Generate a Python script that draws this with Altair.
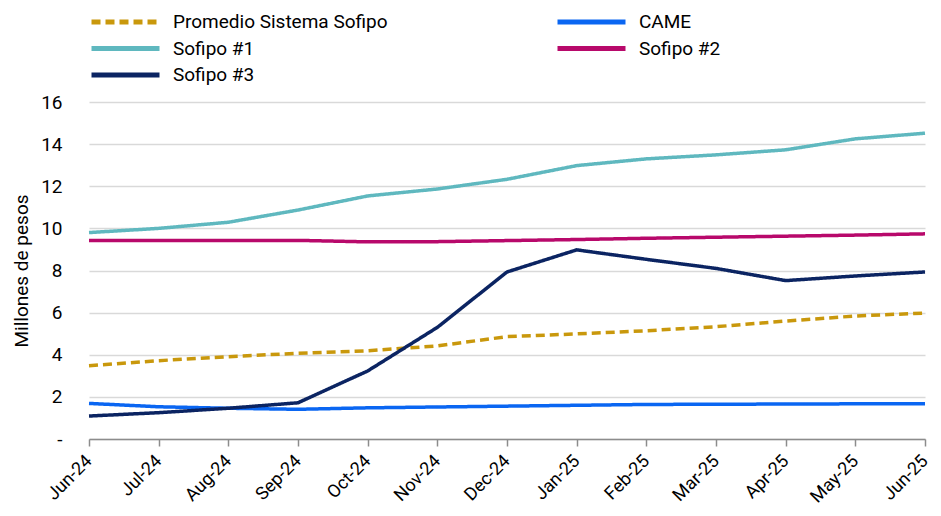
import altair as alt
import pandas as pd

months = ["Jun-24", "Jul-24", "Aug-24", "Sep-24", "Oct-24", "Nov-24", "Dec-24",
          "Jan-25", "Feb-25", "Mar-25", "Apr-25", "May-25", "Jun-25"]

promedio = [3.48, 3.72, 3.91, 4.07, 4.19, 4.42, 4.86, 4.99, 5.14, 5.33, 5.60, 5.84, 5.98]
came     = [1.69, 1.53, 1.46, 1.41, 1.48, 1.52, 1.56, 1.60, 1.64, 1.65, 1.66, 1.67, 1.67]
sofipo1  = [9.80, 10.00, 10.29, 10.87, 11.54, 11.87, 12.33, 12.98, 13.30, 13.49, 13.73, 14.25, 14.52]
sofipo2  = [9.42, 9.43, 9.42, 9.43, 9.36, 9.37, 9.42, 9.47, 9.53, 9.58, 9.63, 9.68, 9.74]
sofipo3  = [1.09, 1.25, 1.46, 1.72, 3.23, 5.30, 7.93, 8.98, 8.53, 8.10, 7.52, 7.74, 7.93]

series_names = ["Promedio Sistema Sofipo", "CAME", "Sofipo #1", "Sofipo #2", "Sofipo #3"]
series_values = [promedio, came, sofipo1, sofipo2, sofipo3]
series_colors = ["#C9980C", "#0A66F2", "#5FB8BF", "#B8096B", "#0B2462"]
series_dash = [[9, 5], [1, 0], [1, 0], [1, 0], [1, 0]]

rows = []
for name, vals in zip(series_names, series_values):
    for m, v in zip(months, vals):
        rows.append({"Mes": m, "Serie": name, "Valor": v})
df = pd.DataFrame(rows)

FONT = "Roboto"

chart = alt.Chart(df).mark_line(strokeWidth=3.5).encode(
    x=alt.X("Mes:O", sort=months,
            scale=alt.Scale(type="point", padding=0),
            axis=alt.Axis(title=None, labelAngle=-45, labelFontSize=18,
                          labelAlign="right", labelBaseline="middle",
                          labelColor="#000000", domainColor="#8c8c8c",
                          tickColor="#8c8c8c", tickSize=7, domainWidth=1.5,
                          tickWidth=1.5, labelPadding=12, grid=False,
                          labelFont=FONT, labelOverlap=False)),
    y=alt.Y("Valor:Q",
            scale=alt.Scale(domain=[0, 16], nice=False),
            axis=alt.Axis(title="Millones de pesos", values=[0, 2, 4, 6, 8, 10, 12, 14, 16],
                          labelExpr="datum.value == 0 ? '-\u00a0\u00a0\u00a0' : datum.label",
                          labelFontSize=19, labelColor="#000000", ticks=False,
                          domain=False, labelPadding=27, gridColor="#d9d9d9",
                          gridWidth=1.5, titleFontSize=19, titleFontWeight="normal",
                          titleColor="#000000", titlePadding=9,
                          labelFont=FONT, titleFont=FONT)),
    color=alt.Color("Serie:N", sort=series_names,
                    scale=alt.Scale(domain=series_names, range=series_colors),
                    legend=alt.Legend(title=None)),
    strokeDash=alt.StrokeDash("Serie:N", sort=series_names,
                              scale=alt.Scale(domain=series_names, range=series_dash),
                              legend=alt.Legend(title=None)),
).properties(
    width=836, height=337,
    autosize=alt.AutoSizeParams(type="none"),
    padding={"left": 81, "top": 94, "right": 8, "bottom": 69},
).configure_view(
    stroke=None
).configure_legend(
    orient="none", legendX=0, legendY=-90, columns=2, direction="horizontal",
    symbolType="stroke", symbolSize=4624, symbolStrokeWidth=5,
    clipHeight=20, rowPadding=6.5, columnPadding=167, labelLimit=0,
    labelFontSize=19, labelFont=FONT, labelColor="#000000", labelOffset=11,
    padding=0, offset=0,
)

chart.save("out.html", embed_options={"renderer": "svg", "actions": False})
